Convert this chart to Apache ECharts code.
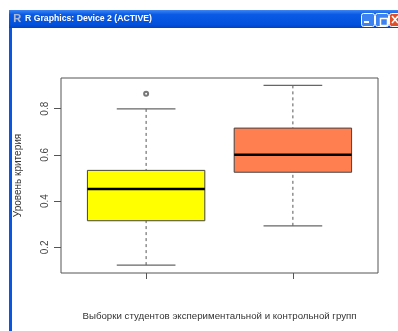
<!DOCTYPE html>
<html>
<head>
<meta charset="utf-8">
<script src="https://cdn.jsdelivr.net/npm/echarts@6/dist/echarts.min.js"></script>
<style>
html,body{margin:0;padding:0;background:#fff;}
#chart{width:398px;height:331px;}
</style>
</head>
<body>
<div id="chart"></div>
<script>
// ---- data ----
const groupNames = ['Экспериментальная', 'Контрольная'];
const groupPositions = [1, 2];
// [min, Q1, median, Q3, max]
const groupStats = [
  [0.123, 0.315, 0.452, 0.533, 0.799],
  [0.293, 0.525, 0.601, 0.716, 0.901]
];
const outliers = [[1, 0.865]];
const yTicks = [0.2, 0.4, 0.6, 0.8];
const xTicks = [1, 2];
const boxColors = ['#FFFF00', '#FF7F50'];

const yTitle = 'Уровень критерия';
const xTitle = 'Выборки студентов экспериментальной и контрольной групп';
const windowTitle = 'R Graphics: Device 2 (ACTIVE)';

const boxData = groupPositions.map((p, i) => [p].concat(groupStats[i]));

const chart = echarts.init(document.getElementById('chart'), null, {renderer: 'canvas'});
const FONT = 'Liberation Sans, Arial, sans-serif';

const option = {
  animation: false,
  backgroundColor: '#ffffff',
  grid: {
    left: 61, top: 78, width: 317, height: 195,
    show: true, borderColor: '#555', borderWidth: 1, backgroundColor: 'transparent'
  },
  xAxis: {
    type: 'value', min: 0.42, max: 2.58,
    splitLine: {show: false},
    axisLine: {show: false},
    axisTick: {show: true, customValues: xTicks, length: 6, lineStyle: {color: '#555'}},
    axisLabel: {show: false},
    name: xTitle, nameLocation: 'middle', nameGap: 38,
    nameTextStyle: {fontFamily: FONT, fontSize: 9.7, color: '#333'}
  },
  yAxis: {
    type: 'value', min: 0.0888, max: 0.9329,
    splitLine: {show: false},
    axisLine: {show: false},
    axisTick: {show: true, customValues: yTicks, length: 7, lineStyle: {color: '#555'}},
    axisLabel: {
      customValues: yTicks, rotate: 90, margin: 11,
      fontFamily: FONT, fontSize: 10, color: '#444',
      formatter: v => v.toFixed(1)
    },
    name: yTitle, nameLocation: 'middle', nameGap: 38, nameRotate: 90,
    nameTextStyle: {fontFamily: FONT, fontSize: 10, color: '#333'}
  },
  series: [
    {
      type: 'custom',
      data: boxData,
      clip: false,
      renderItem: function (params, api) {
        const x = api.value(0);
        const mn = api.value(1), q1 = api.value(2), md = api.value(3), q3 = api.value(4), mx = api.value(5);
        const hw = 0.4, cw = 0.2;
        const tl = api.coord([x - hw, q3]);
        const br = api.coord([x + hw, q1]);
        const mL = api.coord([x - hw, md]), mR = api.coord([x + hw, md]);
        const top = api.coord([x, mx]), bot = api.coord([x, mn]);
        const q3p = api.coord([x, q3]), q1p = api.coord([x, q1]);
        const capL = api.coord([x - cw, mx])[0], capR = api.coord([x + cw, mx])[0];
        const col = boxColors[params.dataIndex];
        return {
          type: 'group',
          children: [
            {type: 'line', shape: {x1: top[0], y1: top[1], x2: q3p[0], y2: q3p[1]},
             style: {stroke: '#555', lineWidth: 1, lineDash: [3, 3]}},
            {type: 'line', shape: {x1: bot[0], y1: bot[1], x2: q1p[0], y2: q1p[1]},
             style: {stroke: '#555', lineWidth: 1, lineDash: [3, 3]}},
            {type: 'line', shape: {x1: capL, y1: top[1], x2: capR, y2: top[1]},
             style: {stroke: '#666', lineWidth: 1.2}},
            {type: 'line', shape: {x1: capL, y1: bot[1], x2: capR, y2: bot[1]},
             style: {stroke: '#666', lineWidth: 1.2}},
            {type: 'rect', shape: {x: tl[0], y: tl[1], width: br[0] - tl[0], height: br[1] - tl[1]},
             style: {fill: col, stroke: '#444', lineWidth: 1}},
            {type: 'line', shape: {x1: mL[0], y1: mL[1], x2: mR[0], y2: mR[1]},
             style: {stroke: '#000', lineWidth: 2.5}}
          ]
        };
      }
    },
    {
      type: 'scatter',
      data: outliers,
      symbol: 'emptyCircle',
      symbolSize: 4,
      itemStyle: {color: '#555', borderColor: '#555', borderWidth: 1}
    }
  ],
  graphic: [
    {type: 'rect', left: 9, top: 10, shape: {width: 389, height: 18},
     style: {fill: new echarts.graphic.LinearGradient(0, 0, 0, 1, [
       {offset: 0, color: '#3d86f5'}, {offset: 0.25, color: '#0a5ae6'},
       {offset: 0.8, color: '#0251dc'}, {offset: 1, color: '#0142c4'}])}},
    {type: 'rect', left: 9, top: 28, shape: {width: 3, height: 303}, style: {fill: '#0a56e0'}},
    {type: 'text', left: 13, top: 13, style: {text: 'R', fill: '#aab8d8', font: 'bold 11px Liberation Sans', stroke: '#5a6c9c', lineWidth: 0.5}},
    {type: 'text', left: 25, top: 14, style: {text: windowTitle, fill: '#ffffff', font: 'bold 8.7px Liberation Sans'}},
    {type: 'rect', left: 361, top: 13, shape: {width: 13, height: 13, r: 2},
     style: {fill: '#3c82f0', stroke: '#ffffff', lineWidth: 1}},
    {type: 'rect', left: 364, top: 21, shape: {width: 5, height: 2}, style: {fill: '#ffffff'}},
    {type: 'rect', left: 375, top: 13, shape: {width: 13, height: 13, r: 2},
     style: {fill: '#3c82f0', stroke: '#ffffff', lineWidth: 1}},
    {type: 'rect', left: 378, top: 16, shape: {width: 7, height: 7},
     style: {fill: 'none', stroke: '#ffffff', lineWidth: 1.5}},
    {type: 'rect', left: 389, top: 13, shape: {width: 13, height: 13, r: 2},
     style: {fill: '#e0502a', stroke: '#ffffff', lineWidth: 1}},
    {type: 'line', shape: {x1: 392, y1: 16, x2: 398, y2: 23}, style: {stroke: '#ffffff', lineWidth: 1.5}},
    {type: 'line', shape: {x1: 398, y1: 16, x2: 392, y2: 23}, style: {stroke: '#ffffff', lineWidth: 1.5}}
  ]
};
chart.setOption(option);
</script>
</body>
</html>
